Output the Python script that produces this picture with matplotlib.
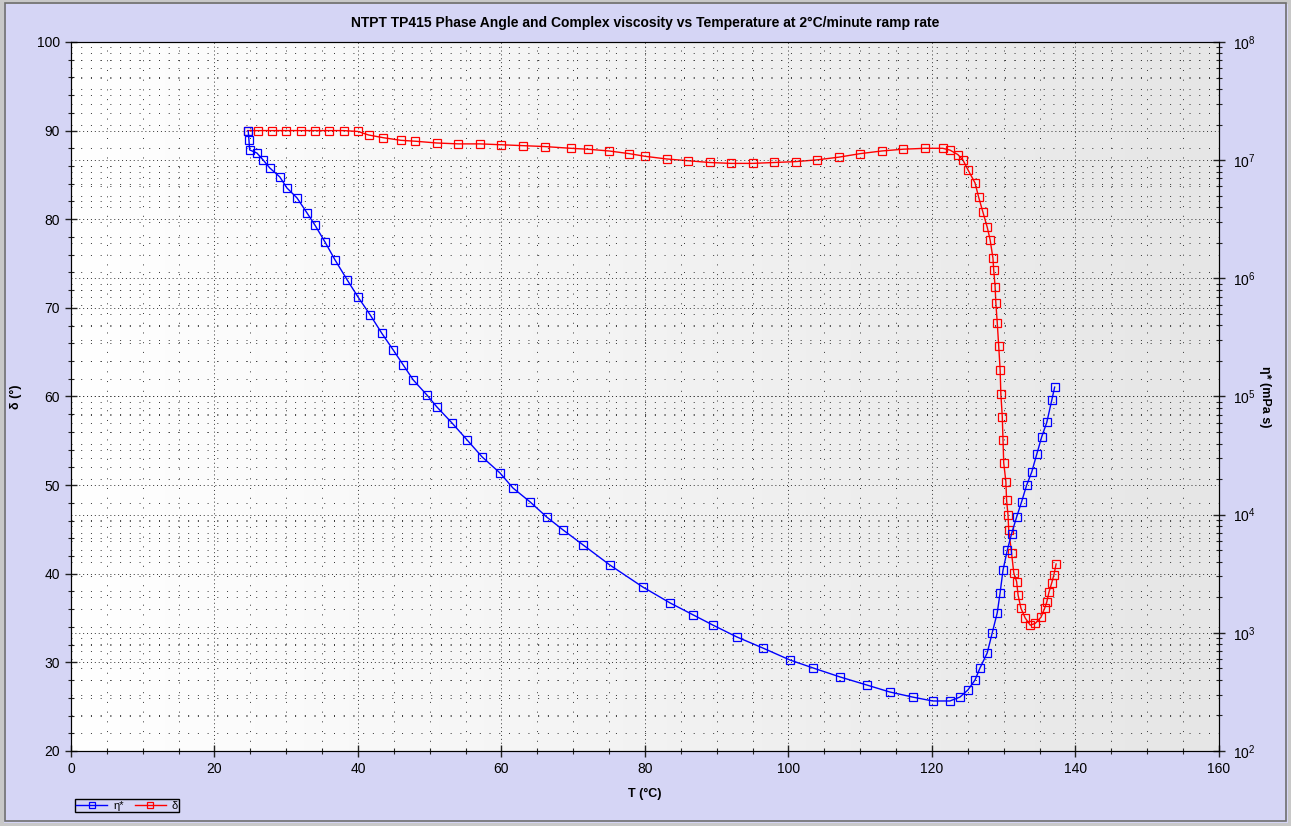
"""NTPT TP415 oscillatory temperature ramp: phase angle and complex viscosity."""

import matplotlib

matplotlib.use("Agg")
import matplotlib.pyplot as plt  # noqa: E402
import numpy as np  # noqa: E402
from matplotlib.colors import LinearSegmentedColormap  # noqa: E402
from matplotlib.patches import Rectangle  # noqa: E402
from matplotlib.ticker import LogLocator, MultipleLocator, NullFormatter  # noqa: E402

BG = "#d5d5f5"
C_ETA = "#0000ff"
C_DELTA = "#ff0000"

plt.rcParams.update(
    {
        "font.family": ["Liberation Sans", "DejaVu Sans"],
        "font.size": 10,
        "mathtext.fontset": "custom",
        "mathtext.rm": "Liberation Sans",
        "mathtext.it": "Liberation Sans:italic",
        "mathtext.bf": "Liberation Sans:bold",
    }
)

# --- data ------------------------------------------------------------------

# phase angle delta (deg) vs temperature (degC)
T_delta = [
    24.6, 26.0, 28.0, 30.0, 32.0, 34.0, 36.0, 38.0, 40.0, 41.5, 43.5, 46.0,
    48.0, 51.0, 54.0, 57.0, 60.0, 63.0, 66.0, 69.7, 72.0, 75.0, 77.8, 80.0,
    83.0, 86.0, 89.0, 92.0, 95.0, 98.0, 101.0, 104.0, 107.0, 110.0, 113.0,
    116.0, 119.0, 121.5, 122.5, 123.6, 124.3, 125.0, 126.0, 126.5, 127.1,
    127.7, 128.1, 128.5, 128.6, 128.8, 128.9, 129.1, 129.3, 129.5, 129.6,
    129.8, 129.9, 130.0, 130.3, 130.4, 130.6, 130.7, 131.1, 131.4, 131.8,
    132.0, 132.4, 133.0, 133.7, 134.4, 135.2, 135.7, 136.0, 136.3, 136.7,
    137.0, 137.3,
]
delta = [
    90.0, 90.0, 90.0, 90.0, 90.0, 90.0, 90.0, 90.0, 89.9, 89.5, 89.2, 88.9,
    88.8, 88.6, 88.5, 88.5, 88.4, 88.3, 88.2, 88.0, 87.9, 87.7, 87.4, 87.1,
    86.8, 86.6, 86.4, 86.3, 86.3, 86.4, 86.5, 86.7, 87.0, 87.4, 87.7,
    87.9, 88.0, 88.0, 87.8, 87.3, 86.7, 85.6, 84.1, 82.5, 80.8,
    79.1, 77.7, 75.6, 74.3, 72.4, 70.6, 68.3, 65.7, 63.0, 60.3,
    57.7, 55.1, 52.5, 50.4, 48.3, 46.6, 44.9, 42.3, 40.1, 39.1,
    37.6, 36.1, 35.0, 34.2, 34.4, 35.1, 36.1, 36.8, 37.9, 39.0,
    39.9, 41.1,
]

# complex viscosity eta* (mPa s) vs temperature (degC)
T_eta = [
    24.7, 24.8, 24.9, 25.9, 26.8, 27.7, 29.1, 30.1, 31.5, 32.9, 34.0, 35.4,
    36.8, 38.5, 40.0, 41.7, 43.3, 44.9, 46.3, 47.7, 49.6, 51.0, 53.1, 55.2,
    57.3, 59.8, 61.6, 64.0, 66.3, 68.6, 71.4, 75.1, 79.7, 83.5, 86.7, 89.5,
    92.8, 96.4, 100.2, 103.4, 107.2, 110.9, 114.1, 117.3, 120.1, 122.5,
    123.9, 125.0, 126.0, 126.7, 127.7, 128.4, 129.1, 129.5, 129.9, 130.5,
    131.1, 131.8, 132.5, 133.2, 133.9, 134.6, 135.3, 136.0, 136.7, 137.1,
]
eta = [
    1.77e7, 1.48e7, 1.22e7, 1.15e7, 1.00e7, 8.59e6, 7.21e6, 5.81e6, 4.79e6,
    3.57e6, 2.82e6, 2.03e6, 1.43e6, 9.68e5, 6.95e5, 4.90e5, 3.44e5, 2.48e5,
    1.85e5, 1.38e5, 1.03e5, 8.15e4, 5.97e4, 4.29e4, 3.08e4, 2.25e4, 1.68e4,
    1.28e4, 9.55e3, 7.41e3, 5.53e3, 3.75e3, 2.44e3, 1.79e3, 1.42e3, 1.16e3,
    923, 745, 589, 505, 423, 362, 316, 286, 265, 265,
    286, 328, 399, 505, 676, 1000, 1480, 2190, 3390, 5010,
    6920, 9550, 1.29e4, 1.78e4, 2.29e4, 3.24e4, 4.57e4, 6.03e4, 9.33e4, 1.20e5,
]

TITLE = "NTPT TP415 Phase Angle and Complex viscosity vs Temperature at 2\u00b0C/minute ramp rate"

# --- figure ----------------------------------------------------------------

fig = plt.figure(figsize=(12.91, 8.26), dpi=100, facecolor=BG)
fig.patches.append(Rectangle((0, 0), 1, 1, transform=fig.transFigure, fill=False,
                             edgecolor="#c8c8c8", lw=5, zorder=0))
fig.patches.append(Rectangle((0.004, 0.006), 0.992, 0.99, transform=fig.transFigure,
                             fill=False, edgecolor="#6e6e6e", lw=1.2, zorder=1))

ax = fig.add_axes([0.0550, 0.0908, 0.8892, 0.8584])
ax.set_facecolor("white")
grad = LinearSegmentedColormap.from_list("bg", ["#ffffff", "#e6e6e6"])
ax.imshow(np.linspace(0, 1, 256)[None, :], cmap=grad, aspect="auto",
          extent=[0, 1, 0, 1], transform=ax.transAxes, zorder=0)

ax.plot(T_delta, delta, color=C_DELTA, lw=1, marker="s", ms=5.4, mfc="none",
        mew=0.9, label="\u03b4", zorder=3)
ax.set_xlim(0, 160)
ax.set_ylim(20, 100)
ax.xaxis.set_major_locator(MultipleLocator(20))
ax.xaxis.set_minor_locator(MultipleLocator(5))
ax.yaxis.set_major_locator(MultipleLocator(10))
ax.yaxis.set_minor_locator(MultipleLocator(2))
ax.grid(which="major", color="#333333", lw=0.7, ls=(0, (1, 3)))
ax.grid(which="minor", color="#333333", lw=0.7, ls=(0, (1, 9)))
ax.tick_params(which="major", direction="inout", length=8, width=1, pad=4,
               labelsize=10, color="#222222")
ax.tick_params(which="minor", direction="inout", length=4, width=0.8, color="#222222")
ax.tick_params(axis="y", which="both", left=True, right=False)
ax.set_xlabel("T (\u00b0C)", fontsize=9, fontweight="bold")
ax.set_ylabel("\u03b4 (\u00b0)", fontsize=9, fontweight="bold")
ax.xaxis.set_label_coords(0.5, -0.052)
ax.yaxis.set_label_coords(-0.043, 0.5)
for sp in ax.spines.values():
    sp.set_color("#111111")

ax2 = ax.twinx()
ax2.plot(T_eta, eta, color=C_ETA, lw=1, marker="s", ms=5.4, mfc="none",
         mew=0.9, label="\u03b7*", zorder=3)
ax2.set_yscale("log")
ax2.set_ylim(1e2, 1e8)
ax2.yaxis.set_major_locator(LogLocator(base=10, numticks=10))
ax2.yaxis.set_minor_locator(LogLocator(base=10, subs=np.arange(2, 10), numticks=20))
ax2.yaxis.set_minor_formatter(NullFormatter())
ax2.grid(axis="y", which="major", color="#333333", lw=0.7, ls=(0, (1, 3)))
ax2.grid(axis="y", which="minor", color="#333333", lw=0.7, ls=(0, (1, 9)))
ax2.tick_params(which="major", direction="inout", length=8, width=1, pad=6,
                labelsize=10, color="#222222")
ax2.tick_params(which="minor", direction="inout", length=4, width=0.8, color="#222222")
ax2.set_ylabel("\u03b7* (mPa s)", fontsize=9, fontweight="bold", rotation=270,
               va="center")
ax2.yaxis.set_label_coords(1.040, 0.5)

fig.text(0.5, 0.972, TITLE, ha="center", va="center", fontsize=10, fontweight="bold")

h1, l1 = ax2.get_legend_handles_labels()
h2, l2 = ax.get_legend_handles_labels()
leg = fig.legend(h1 + h2, l1 + l2, loc="lower left", bbox_to_anchor=(0.0535, 0.010),
                 bbox_transform=fig.transFigure, ncol=2, fontsize=8, frameon=True,
                 fancybox=False, edgecolor="black", facecolor=BG, framealpha=1,
                 borderpad=0.15, handlelength=2.8, handletextpad=0.5,
                 columnspacing=1.0, markerscale=0.9)
leg.get_frame().set_linewidth(1.0)

fig.savefig("out.png", dpi=100, facecolor=BG)
